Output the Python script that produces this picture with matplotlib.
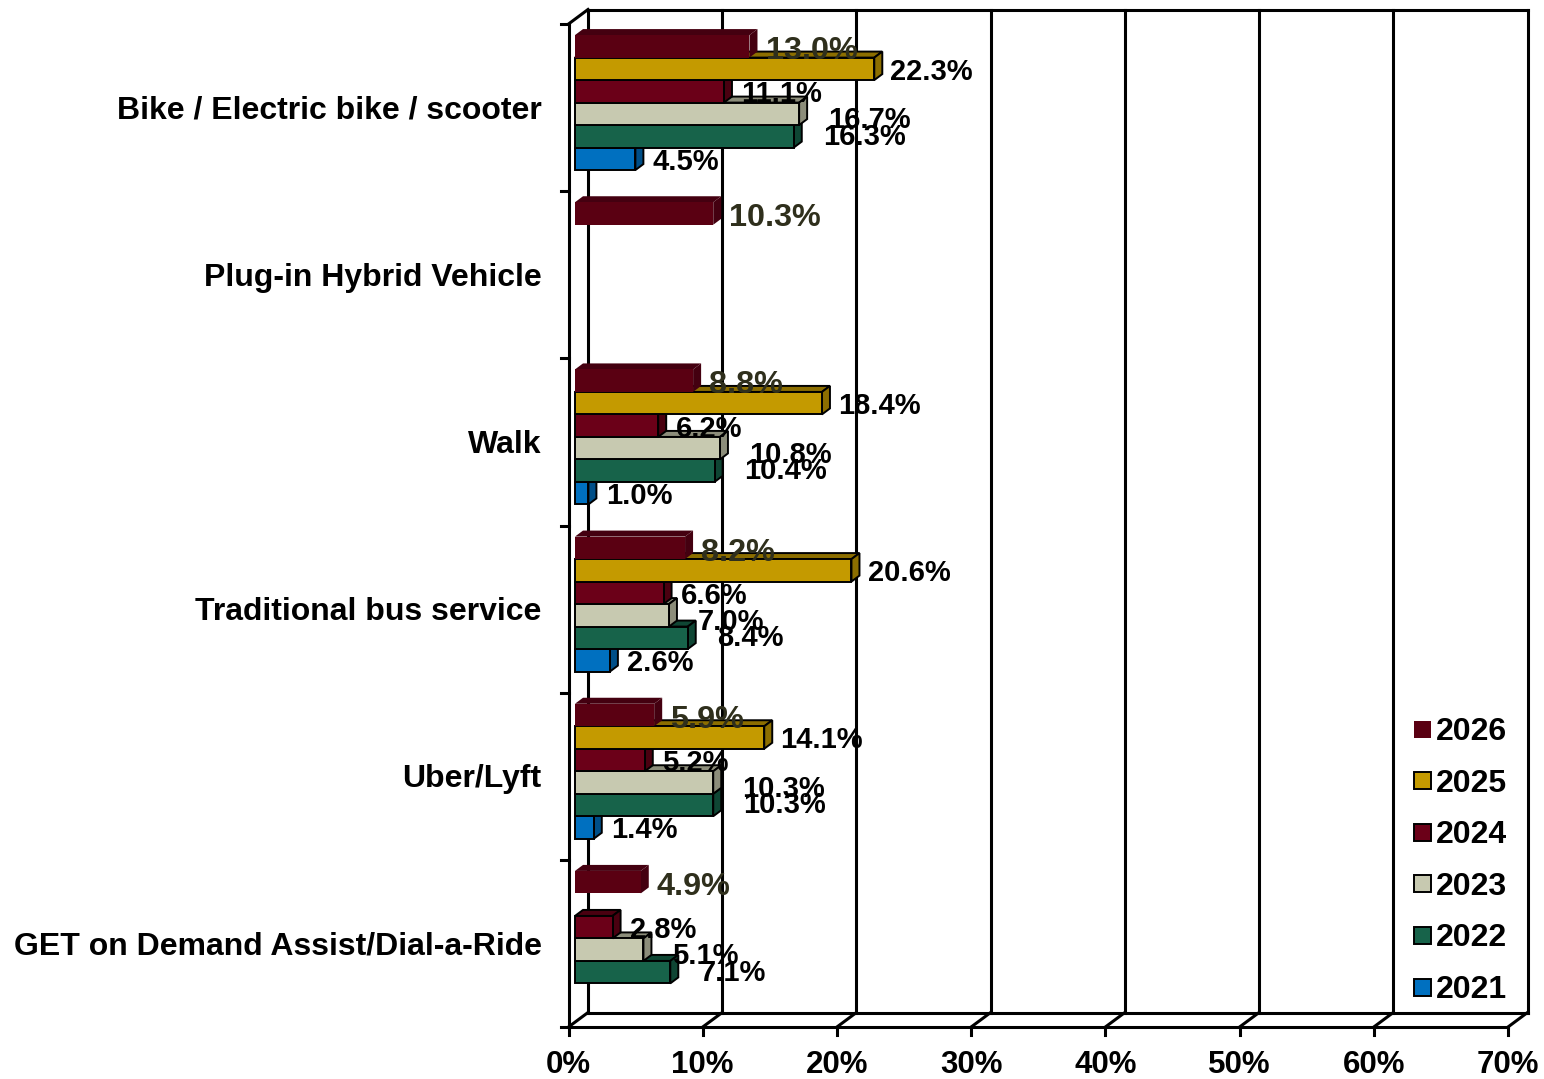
import matplotlib
matplotlib.use("Agg")
import matplotlib.pyplot as plt
from matplotlib.patches import Polygon, Rectangle

plt.rcParams['font.family'] = ['Liberation Sans', 'DejaVu Sans']
plt.rcParams['font.weight'] = 'bold'

# data (percent)
categories = ['Bike / Electric bike / scooter', 'Plug-in Hybrid Vehicle', 'Walk',
              'Traditional bus service', 'Uber/Lyft', 'GET on Demand Assist/Dial-a-Ride']
years = ['2026', '2025', '2024', '2023', '2022', '2021']
v2026 = [13.0, 10.3, 8.8, 8.2, 5.9, 4.9]
v2025 = [22.3, None, 18.4, 20.6, 14.1, None]
v2024 = [11.1, None, 6.2, 6.6, 5.2, 2.8]
v2023 = [16.7, None, 10.8, 7.0, 10.3, 5.1]
v2022 = [16.3, None, 10.4, 8.4, 10.3, 7.1]
v2021 = [4.5, None, 1.0, 2.6, 1.4, None]
series = [v2026, v2025, v2024, v2023, v2022, v2021]
xticks = [0, 10, 20, 30, 40, 50, 60, 70]

# colours: front face, shaded face, edge
front = ['#5a0012', '#c49a00', '#6b0018', '#c7c9b0', '#17634a', '#0070c0']
shade = ['#440010', '#8c6e00', '#4a0010', '#8c8d7a', '#0f4634', '#004f88']
edges = [None, 'black', 'black', 'black', 'black', 'black']
lab_col = ['#2f2f1c', 'black', 'black', 'black', 'black', 'black']
lab_size = [23.3, 21, 21, 21, 21, 21]
lab_dx = [1.2, 1.2, 1.3, 2.15, 2.2, 1.3]
lab_dy = [-0.01, 0.0, 0.0, -0.02, 0.015, 0.0]

W, H = 1544, 1079
fig = plt.figure(figsize=(W / 100, H / 100), dpi=100)
x0p, x1p, ytop, ybot = 568.5, 1508, 24, 1027
ax = fig.add_axes([x0p / W, (H - ybot) / H, (x1p - x0p) / W, (ybot - ytop) / H])
ax.set_xlim(0, 70)
ax.set_ylim(0, 6)
ax.axis('off')

pxx = 70 / (x1p - x0p)
pxy = 6 / (ybot - ytop)
DX, DY = 19.5 * pxx, 14.5 * pxy      # wall depth
BX, BY = 6.5 * pxx, 5.0 * pxy        # bar front offset
BDX, BDY = 8 * pxx, 6 * pxy          # bar depth
tdy = 3 * pxy                        # nudge text down a little
lw = 2.2
kw = dict(color='black', lw=lw, clip_on=False, solid_capstyle='projecting')

# walls and floor
ax.plot([0, 0], [0, 6], **kw)
ax.plot([0, DX], [6, 6 + DY], **kw)
ax.plot([DX, 70 + DX], [6 + DY, 6 + DY], **kw)
ax.plot([0, 70], [0, 0], **kw)
ax.plot([DX, 70 + DX], [DY, DY], **kw)
for t in xticks:
    ax.plot([t + DX, t + DX], [DY, 6 + DY], **kw)
    ax.plot([t, t + DX], [0, DY], **kw)
    ax.plot([t, t], [0, -8 * pxy], **kw)
    ax.text(t, -35 * pxy - tdy, f'{t}%', ha='center', va='center', fontsize=22.5, fontweight='bold')
for j in range(7):
    ax.plot([-8 * pxx, 0], [j, j], **kw)

# category labels
for i, c in enumerate(categories):
    ax.text(-27 * pxx, 6 - i - 0.5 - tdy, c, ha='right', va='center', fontsize=23, fontweight='bold')

# bars
h = 22.5 * pxy
gap = (1 - 6 * h) / 2
for s in range(5, -1, -1):
    for i, v in enumerate(series[s]):
        if v is None:
            continue
        yb = (6 - i) - gap - (s + 1) * h + BY
        xb = BX
        ec = edges[s] if edges[s] else 'none'
        elw = 1.4 if edges[s] else 0
        top = Polygon([(xb, yb + h), (xb + v, yb + h), (xb + v + BDX, yb + h + BDY), (xb + BDX, yb + h + BDY)],
                      closed=True, fc=shade[s], ec=ec, lw=elw, clip_on=False, zorder=3)
        side = Polygon([(xb + v, yb), (xb + v + BDX, yb + BDY), (xb + v + BDX, yb + h + BDY), (xb + v, yb + h)],
                       closed=True, fc=shade[s], ec=ec, lw=elw, clip_on=False, zorder=3)
        face = Rectangle((xb, yb), v, h, fc=front[s], ec=ec, lw=elw, clip_on=False, zorder=3)
        ax.add_patch(top)
        ax.add_patch(side)
        ax.add_patch(face)

for s in range(6):
    for i, v in enumerate(series[s]):
        if v is None:
            continue
        yb = (6 - i) - gap - (s + 1) * h + BY
        ax.text(BX + v + lab_dx[s], yb + h / 2 + lab_dy[s] - tdy, f'{v:.1f}%', ha='left', va='center',
                fontsize=lab_size[s], fontweight='bold', color=lab_col[s], zorder=5)

# legend
for k, yr in enumerate(years):
    yc = H - (729 + k * 51.6)
    fig.patches.append(Rectangle(((1414) / W, (yc - 8.5) / H), 17 / W, 17 / H, transform=fig.transFigure,
                                 fc=front[k], ec=edges[k] if edges[k] else 'none', lw=1.4, figure=fig))
    fig.text(1436 / W, (yc - 3) / H, yr, ha='left', va='center', fontsize=23, fontweight='bold')

fig.savefig('out.png', dpi=100)
